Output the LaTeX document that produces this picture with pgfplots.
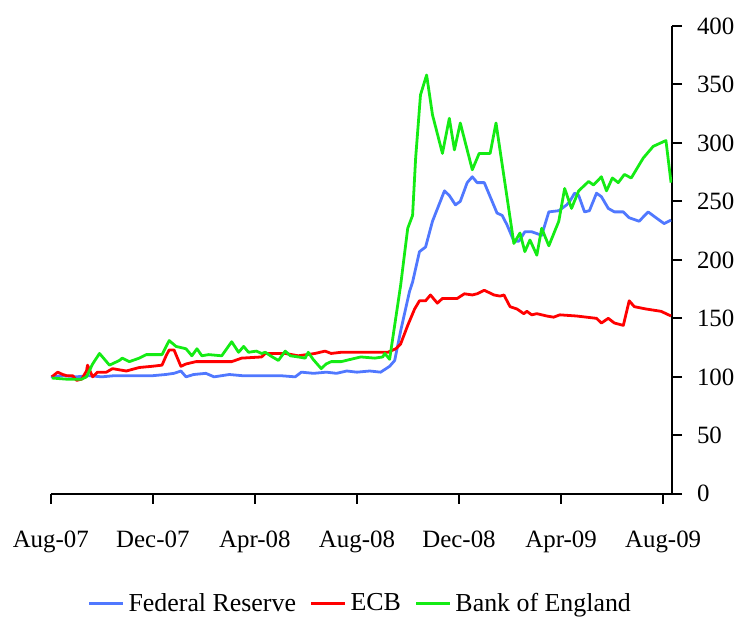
\documentclass[border=0pt]{standalone}
\usepackage{fontspec}
\setmainfont{Liberation Serif}
\usepackage{pgfplots}
\usepackage{pgfplotstable}
\pgfplotsset{compat=1.18}

\definecolor{fedblue}{RGB}{80,120,255}
\definecolor{ecbred}{RGB}{255,0,0}
\definecolor{boegreen}{RGB}{20,235,20}

% x = months since Aug-07, y = index (Aug-07 = 100)
\pgfplotstableread{
m v
0.00 100
0.50 101
1.00 100
1.50 101
2.00 100
2.50 101
3.00 101
3.50 101
4.00 101
4.50 102
4.83 103
5.10 105
5.30 100
5.60 102
6.08 103
6.40 100
6.70 101
7.00 102
7.50 101
8.00 101
8.50 101
9.00 101
9.58 100
9.82 104
10.30 103
10.80 104
11.20 103
11.60 105
12.00 104
12.50 105
12.93 104
13.28 109
13.48 114
13.71 139
14.06 173
14.18 181
14.45 207
14.69 211
14.96 233
15.43 259
15.62 255
15.86 247
16.05 250
16.32 266
16.52 271
16.71 266
16.99 266
17.49 240
17.69 238
17.88 230
18.15 216
18.35 216
18.58 224
18.85 224
19.24 221
19.52 241
19.91 242
20.22 247
20.34 250
20.53 257
20.69 255
20.92 241
21.11 242
21.39 257
21.58 254
21.85 244
22.09 241
22.44 241
22.67 236
23.06 233
23.41 241
23.72 236
24.04 231
24.31 234
}\fed

\pgfplotstableread{
m v
0.04 100
0.27 104
0.47 102
0.62 101
0.86 101
1.01 97
1.21 98
1.40 105
1.44 110
1.64 100
1.83 104
2.18 104
2.42 107
2.96 105
3.47 108
3.97 109
4.36 110
4.52 118
4.64 123
4.83 123
5.10 109
5.30 111
5.69 113
6.08 113
6.70 113
7.09 113
7.48 116
8.26 117
8.41 120
9.19 120
9.70 118
10.36 120
10.75 122
10.99 120
11.38 121
12.04 121
12.70 121
13.21 121
13.52 124
13.71 128
13.99 144
14.26 158
14.45 165
14.69 165
14.88 170
15.15 163
15.35 167
15.66 167
15.93 167
16.21 171
16.52 170
16.71 171
16.99 174
17.37 170
17.61 169
17.76 170
18.00 160
18.27 158
18.54 154
18.66 156
18.85 153
19.05 154
19.44 152
19.71 151
19.95 153
20.61 152
21.00 151
21.39 150
21.58 146
21.85 150
22.09 146
22.44 144
22.67 165
22.87 160
23.33 158
23.92 156
24.31 152
}\ecb

\pgfplotstableread{
m v
0.04 99
0.62 98
1.21 98
1.40 100
1.64 111
1.91 120
2.30 110
2.69 114
2.80 116
3.08 113
3.47 116
3.74 119
4.36 119
4.64 131
4.91 126
5.30 124
5.53 118
5.73 124
5.92 118
6.19 119
6.70 118
7.09 130
7.36 121
7.56 126
7.75 121
8.06 122
8.26 120
8.41 121
8.61 118
8.92 114
9.19 122
9.39 118
9.70 117
9.97 116
10.09 121
10.28 115
10.60 107
10.79 111
10.99 113
11.38 113
11.76 115
12.15 117
12.70 116
13.01 117
13.09 120
13.28 115
13.71 178
13.99 227
14.18 238
14.30 287
14.49 341
14.73 358
14.96 324
15.35 291
15.62 321
15.82 294
16.05 317
16.52 277
16.79 291
17.02 291
17.22 291
17.45 317
18.15 214
18.39 223
18.58 207
18.78 217
19.05 204
19.24 227
19.52 212
19.91 233
20.14 261
20.41 244
20.69 259
21.08 267
21.27 264
21.58 271
21.78 259
22.01 270
22.24 266
22.48 273
22.75 270
23.22 287
23.61 297
24.11 302
24.31 266
}\boe

\begin{document}
\begin{tikzpicture}
\begin{axis}[
    name=ax,
    scale only axis,
    width=312pt, height=235pt,
    xmin=0, xmax=24.35,
    ymin=0, ymax=400,
    axis x line=bottom,
    axis y line=right,
    axis line style={-, black, line width=0.9pt},
    tick align=outside,
    major tick length=5pt,
    tick style={black, line width=0.9pt},
    xtick={0,4,8,12,16,20,24},
    xticklabels={Aug-07,Dec-07,Apr-08,Aug-08,Dec-08,Apr-09,Aug-09},
    ytick={0,50,...,400},
    ticklabel style={font=\fontsize{12.5}{14}\selectfont},
    x tick label style={yshift=-10pt},
    y tick label style={xshift=4pt},
    /pgf/number format/assume math mode=true,
    legend columns=3,
    legend style={draw=none, at={(0.5,-0.235)}, anchor=center,
        font=\fontsize{13}{15}\selectfont,
        /tikz/every odd column/.append style={column sep=0pt},
        /tikz/every even column/.append style={column sep=5pt}},
    legend image code/.code={\draw[#1] (0pt,0pt) -- (17pt,0pt);},
    every axis plot/.append style={line width=1.4pt, line join=round},
]
\addplot[fedblue] table[x=m, y=v] {\fed};
\addplot[ecbred] table[x=m, y=v] {\ecb};
\addplot[boegreen] table[x=m, y=v] {\boe};
\legend{Federal Reserve, ECB, Bank of England}
\end{axis}
\path ([shift={(-25.5pt,-61.5pt)}]ax.south west) rectangle ([shift={(345pt,248pt)}]ax.south west);
\end{tikzpicture}
\end{document}
